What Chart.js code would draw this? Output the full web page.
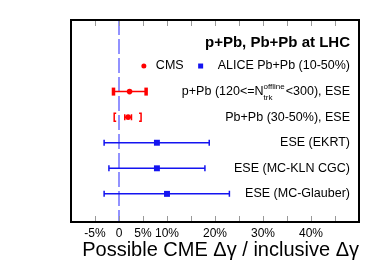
<!DOCTYPE html>
<html>
<head>
<meta charset="utf-8">
<script src="https://cdn.jsdelivr.net/npm/chart.js@4"></script>
<style>
  html, body { margin: 0; padding: 0; background: #fff; }
</style>
</head>
<body>
<canvas id="chart" width="374" height="268"></canvas>
<script>
// rows from top to bottom (y value = row index)
const rowLabels = ['p+Pb', 'Pb+Pb (30-50%), ESE', 'ESE (EKRT)', 'ESE (MC-KLN CGC)', 'ESE (MC-Glauber)'];
const cmsRows = [0, 1];
const cmsValues = [2.2, 1.9];
const cmsStatLow = [-1.2, 1.2];
const cmsStatHigh = [5.7, 2.6];
const cmsSysLow = [-1.2, -1.0];
const cmsSysHigh = [5.7, 4.6];
const aliceRows = [2, 3, 4];
const aliceValues = [7.9, 7.9, 10.0];
const aliceLow = [-3.1, -2.1, -3.1];
const aliceHigh = [18.8, 17.9, 23.0];
const labelledTicks = [-5, 0, 5, 10, 20, 30, 40];
const minorTicks = [-5, 0, 5, 10, 15, 20, 25, 30, 35, 40, 45];

const FONT = '"Liberation Sans", Arial, Helvetica, sans-serif';
const RED = '#ff0000';
const BLUE = '#1414f0';

const decorations = {
  id: 'decorations',
  beforeDatasetsDraw(chart) {
    const { ctx, chartArea: a, scales: { x, y } } = chart;
    ctx.save();
    // dashed zero line
    ctx.strokeStyle = '#6f6fff';
    ctx.lineWidth = 1.5;
    ctx.setLineDash([15, 4]);
    ctx.beginPath();
    ctx.moveTo(x.getPixelForValue(0), a.top);
    ctx.lineTo(x.getPixelForValue(0), a.bottom);
    ctx.stroke();
    ctx.setLineDash([]);

    // CMS error bars
    ctx.strokeStyle = RED;
    ctx.fillStyle = RED;
    ctx.lineWidth = 1.5;
    cmsRows.forEach((r, i) => {
      const py = y.getPixelForValue(r);
      const x1 = x.getPixelForValue(cmsStatLow[i]);
      const x2 = x.getPixelForValue(cmsStatHigh[i]);
      ctx.beginPath();
      ctx.moveTo(x1, py); ctx.lineTo(x2, py);
      ctx.moveTo(x1, py - 3); ctx.lineTo(x1, py + 3);
      ctx.moveTo(x2, py - 3); ctx.lineTo(x2, py + 3);
      ctx.stroke();
      // systematic brackets (solid box when they sit on the stat caps)
      const s1 = x.getPixelForValue(cmsSysLow[i]);
      const s2 = x.getPixelForValue(cmsSysHigh[i]);
      if (cmsSysLow[i] === cmsStatLow[i]) {
        ctx.fillRect(s1 - 1.5, py - 4, 3.5, 8);
        ctx.fillRect(s2 - 2, py - 4, 3.5, 8);
      } else {
        ctx.beginPath();
        ctx.moveTo(s1 + 2, py - 4); ctx.lineTo(s1, py - 4); ctx.lineTo(s1, py + 4); ctx.lineTo(s1 + 2, py + 4);
        ctx.moveTo(s2 - 2, py - 4); ctx.lineTo(s2, py - 4); ctx.lineTo(s2, py + 4); ctx.lineTo(s2 - 2, py + 4);
        ctx.stroke();
      }
    });

    // ALICE error bars
    ctx.strokeStyle = BLUE;
    ctx.lineWidth = 1.5;
    aliceRows.forEach((r, i) => {
      const py = y.getPixelForValue(r);
      const x1 = x.getPixelForValue(aliceLow[i]);
      const x2 = x.getPixelForValue(aliceHigh[i]);
      ctx.beginPath();
      ctx.moveTo(x1, py); ctx.lineTo(x2, py);
      ctx.moveTo(x1, py - 3); ctx.lineTo(x1, py + 3);
      ctx.moveTo(x2, py - 3); ctx.lineTo(x2, py + 3);
      ctx.stroke();
    });
    ctx.restore();
  },
  afterDatasetsDraw(chart) {
    const { ctx, chartArea: a, scales: { x, y } } = chart;
    ctx.save();
    // tick marks, top and bottom, pointing inward
    ctx.strokeStyle = '#999';
    ctx.lineWidth = 1;
    minorTicks.forEach(v => {
      const px = Math.round(x.getPixelForValue(v)) + 0.5;
      ctx.beginPath();
      ctx.moveTo(px, a.top); ctx.lineTo(px, a.top + 6);
      ctx.moveTo(px, a.bottom); ctx.lineTo(px, a.bottom - 6);
      ctx.stroke();
    });
    // frame
    ctx.strokeStyle = '#000';
    ctx.lineWidth = 2;
    ctx.strokeRect(a.left, a.top, a.right - a.left, a.bottom - a.top);

    // texts, right aligned
    const R = a.right - 9;
    ctx.fillStyle = '#000';
    ctx.textBaseline = 'middle';
    ctx.textAlign = 'right';
    ctx.font = 'bold 15px ' + FONT;
    ctx.fillText('p+Pb, Pb+Pb at LHC', R, y.getPixelForValue(-1.9));

    ctx.font = '12.5px ' + FONT;
    const ly = y.getPixelForValue(-1);
    const aliceText = 'ALICE Pb+Pb (10-50%)';
    ctx.fillText(aliceText, R, ly);
    const sqX = R - ctx.measureText(aliceText).width - 17;
    ctx.fillStyle = BLUE;
    ctx.fillRect(sqX - 2.5, ly - 2.5, 5, 5);
    ctx.fillStyle = '#000';
    ctx.fillText('CMS', sqX - 17, ly);
    const cX = sqX - 17 - ctx.measureText('CMS').width - 12;
    ctx.fillStyle = RED;
    ctx.beginPath();
    ctx.arc(cX, ly, 2.5, 0, Math.PI * 2);
    ctx.fill();
    ctx.fillStyle = '#000';

    // first row with sub/superscript
    const py0 = y.getPixelForValue(0);
    let cx = R;
    const tail = '<300), ESE';
    ctx.fillText(tail, cx, py0);
    cx -= ctx.measureText(tail).width;
    ctx.font = '8px ' + FONT;
    ctx.textAlign = 'left';
    const supW = ctx.measureText('offline').width;
    cx -= supW + 1;
    ctx.fillText('offline', cx, py0 - 5);
    ctx.fillText('trk', cx, py0 + 6);
    ctx.font = '12.5px ' + FONT;
    ctx.textAlign = 'right';
    ctx.fillText(rowLabels[0] + ' (120<=N', cx, py0);

    for (let i = 1; i < rowLabels.length; i++) {
      ctx.fillText(rowLabels[i], R, y.getPixelForValue(i));
    }
    ctx.restore();
  }
};

new Chart(document.getElementById('chart'), {
  type: 'scatter',
  data: {
    datasets: [
      {
        label: 'CMS',
        data: cmsRows.map((r, i) => ({ x: cmsValues[i], y: r })),
        backgroundColor: RED,
        borderColor: RED,
        borderWidth: 0,
        pointStyle: 'circle',
        pointRadius: 2.8
      },
      {
        label: 'ALICE Pb+Pb (10-50%)',
        data: aliceRows.map((r, i) => ({ x: aliceValues[i], y: r })),
        backgroundColor: BLUE,
        borderColor: BLUE,
        borderWidth: 0,
        pointStyle: 'rect',
        pointRadius: 4.2
      }
    ]
  },
  options: {
    responsive: false,
    animation: false,
    devicePixelRatio: 1,
    layout: { padding: { left: 71, right: 15, top: 20, bottom: 0 } },
    plugins: { legend: { display: false }, tooltip: { enabled: false } },
    scales: {
      x: {
        type: 'linear',
        min: -10,
        max: 50,
        grid: { display: false, drawTicks: false },
        border: { display: false },
        afterBuildTicks: s => { s.ticks = labelledTicks.map(v => ({ value: v })); },
        afterFit: s => { s.height = 46; },
        ticks: {
          color: '#000',
          font: { family: FONT, size: 12 },
          padding: 4,
          maxRotation: 0,
          autoSkip: false,
          callback: v => (v === 0 ? '0' : v + '%')
        },
        title: {
          display: true,
          text: 'Possible CME \u0394\u03b3 / inclusive \u0394\u03b3',
          color: '#000',
          align: 'end',
          font: { family: FONT, size: 20 },
          padding: { top: 0, bottom: 6 }
        }
      },
      y: { type: 'linear', display: false, reverse: true, min: -2.8, max: 5.1 }
    }
  },
  plugins: [decorations]
});
</script>
</body>
</html>
